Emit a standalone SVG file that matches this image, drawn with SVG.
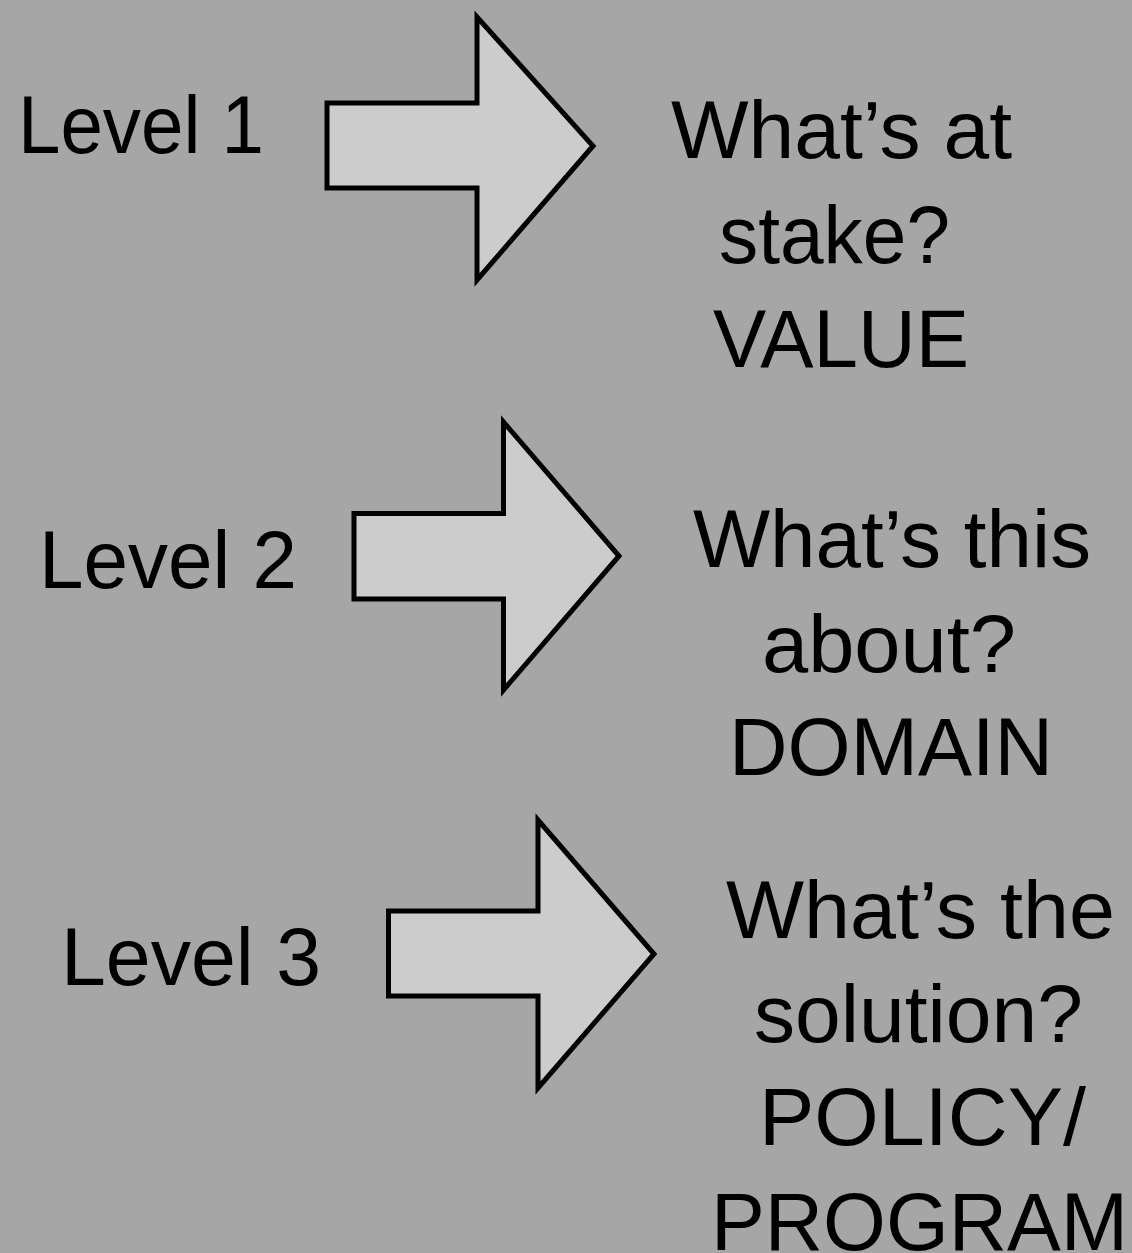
<svg xmlns="http://www.w3.org/2000/svg" width="1132" height="1253" viewBox="0 0 1132 1253">
<style>
.bg{fill:#a6a6a6}
.arrow{fill:#cccccc;stroke:#000;stroke-width:5;stroke-linejoin:miter}
text{font-family:"Liberation Sans",Arial,sans-serif;font-size:82px;fill:#000}
</style>
<rect class="bg" x="0" y="0" width="1132" height="1253"/>
<g id="connectors">
<polygon id="arrow1" class="arrow" points="327,103 477,103 477,17 593,146 477,280 477,188 327,188"/>
<polygon id="arrow2" class="arrow" points="354,513.5 503.5,513.5 503.5,422 619,556 503.5,690 503.5,599 354,599"/>
<polygon id="arrow3" class="arrow" points="388.5,911 538,911 538,820 654,954 538,1088 538,996 388.5,996"/>
</g>
<g id="level1"><text x="18" y="153" textLength="246" lengthAdjust="spacingAndGlyphs">Level 1</text></g>
<g id="level2"><text x="39" y="588" textLength="258" lengthAdjust="spacingAndGlyphs">Level 2</text></g>
<g id="level3"><text x="61" y="985" textLength="260" lengthAdjust="spacingAndGlyphs">Level 3</text></g>
<g id="value">
<text x="671" y="158" textLength="341" lengthAdjust="spacingAndGlyphs">What’s at</text>
<text x="719" y="263" textLength="231" lengthAdjust="spacingAndGlyphs">stake?</text>
<text x="713" y="367" textLength="256" lengthAdjust="spacingAndGlyphs">VALUE</text>
</g>
<g id="domain">
<text x="693" y="567" textLength="398" lengthAdjust="spacingAndGlyphs">What’s this</text>
<text x="762" y="672" textLength="254" lengthAdjust="spacingAndGlyphs">about?</text>
<text x="729" y="775" textLength="324" lengthAdjust="spacingAndGlyphs">DOMAIN</text>
</g>
<g id="policy">
<text x="726" y="938" textLength="389" lengthAdjust="spacingAndGlyphs">What’s the</text>
<text x="754" y="1042" textLength="329" lengthAdjust="spacingAndGlyphs">solution?</text>
<text x="759" y="1145" textLength="327" lengthAdjust="spacingAndGlyphs">POLICY/</text>
<text x="711" y="1250" textLength="417" lengthAdjust="spacingAndGlyphs">PROGRAM</text>
</g>
</svg>
